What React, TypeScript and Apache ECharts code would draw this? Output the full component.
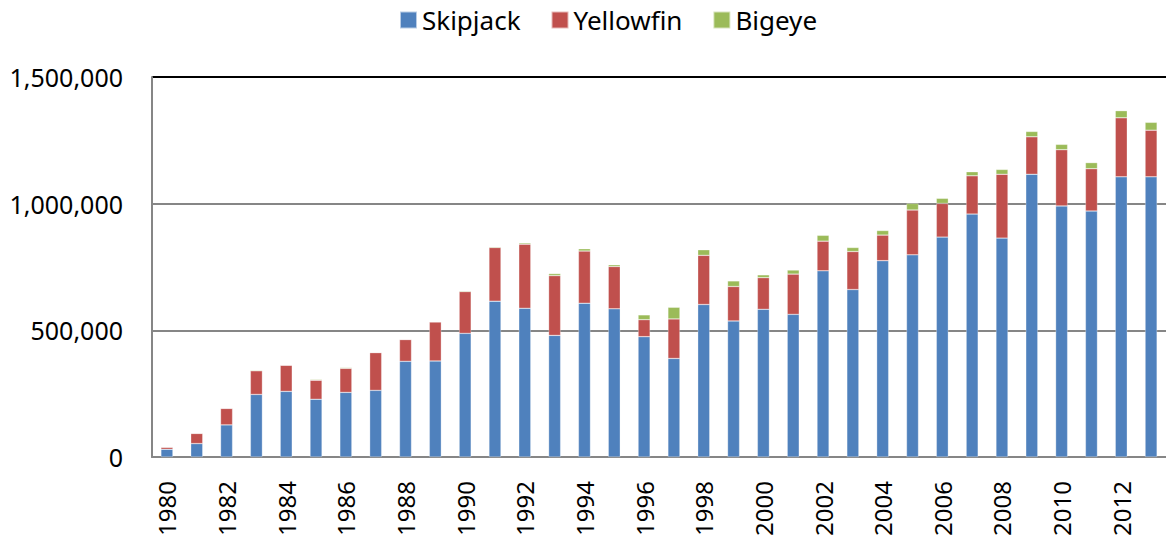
import React, { useEffect, useRef } from "react";
import * as echarts from "echarts";

const years = [
  "1980","1981","1982","1983","1984","1985","1986","1987","1988","1989",
  "1990","1991","1992","1993","1994","1995","1996","1997","1998","1999",
  "2000","2001","2002","2003","2004","2005","2006","2007","2008","2009",
  "2010","2011","2012","2013",
];

const skipjack = [
  30500, 53000, 126700, 247000, 259000, 228000, 255000, 263000, 377600, 379000,
  488000, 615000, 587000, 480000, 607000, 585000, 475000, 389000, 602000, 537000,
  583000, 563000, 735000, 661000, 775000, 798000, 868000, 959000, 864000, 1116000,
  991000, 971000, 1106000, 1106000,
];

const yellowfin = [
  8000, 40000, 65000, 93000, 103000, 75000, 95000, 149000, 86000, 154000,
  165000, 212000, 253000, 236000, 206000, 167000, 67000, 156000, 194000, 136000,
  125000, 159000, 117000, 150000, 101000, 177000, 133000, 151000, 252000, 148000,
  222000, 167000, 233000, 184000,
];

const bigeye = [
  1000, 1500, 2000, 3000, 2000, 3000, 3000, 2000, 2000, 2000,
  3000, 3000, 5000, 8000, 9000, 7000, 19000, 46000, 22000, 22000,
  11000, 16000, 23000, 16000, 18000, 26000, 20000, 16000, 19000, 21000,
  21000, 24000, 28000, 31000,
];

const yTicks = [0, 500000, 1000000, 1500000];

const FONT = "'Noto Sans', 'Open Sans', sans-serif";

export default function App() {
  const ref = useRef<HTMLDivElement>(null);

  useEffect(() => {
    if (!ref.current) return;
    const chart = echarts.init(ref.current, undefined, { renderer: "svg" });
    const barStyle = (color: string) => ({
      color,
      borderColor: "rgba(255,255,255,0.6)",
      borderWidth: 0.5,
    });
    chart.setOption({
      animation: false,
      backgroundColor: "#ffffff",
      legend: {
        top: 2,
        left: 394,
        itemWidth: 17,
        itemHeight: 17,
        itemGap: 30,
        icon: "rect",
        textStyle: { fontFamily: FONT, fontSize: 26, color: "#000" },
        data: ["Skipjack", "Yellowfin", "Bigeye"],
      },
      grid: { left: 152, right: 0, top: 77, bottom: 82, containLabel: false },
      xAxis: {
        type: "category",
        data: years,
        axisLine: { show: true, lineStyle: { color: "#868686", width: 2 } },
        axisTick: { show: false },
        axisLabel: {
          interval: 1,
          rotate: 90,
          margin: 24,
          fontFamily: FONT,
          fontSize: 24,
          color: "#000",
        },
      },
      yAxis: {
        type: "value",
        min: yTicks[0],
        max: yTicks[yTicks.length - 1],
        interval: 500000,
        axisLine: { show: true, lineStyle: { color: "#868686", width: 2 } },
        axisTick: { show: false },
        splitLine: {
          show: true,
          lineStyle: { color: ["#868686", "#868686", "#868686", "#000000"], width: 2 },
        },
        axisLabel: {
          margin: 29,
          fontFamily: FONT,
          fontSize: 25,
          color: "#000",
          formatter: (v: number) => v.toLocaleString("en-US"),
        },
      },
      series: [
        { name: "Skipjack", type: "bar", stack: "t", barWidth: 12, data: skipjack, itemStyle: barStyle("#4F81BD") },
        { name: "Yellowfin", type: "bar", stack: "t", barWidth: 12, data: yellowfin, itemStyle: barStyle("#C0504D") },
        { name: "Bigeye", type: "bar", stack: "t", barWidth: 12, data: bigeye, itemStyle: barStyle("#9BBB59") },
      ],
    });
    return () => chart.dispose();
  }, []);

  return (
    <div
      ref={ref}
      style={{ position: "fixed", left: 0, top: 0, width: 1166, height: 539, background: "#fff" }}
    />
  );
}
